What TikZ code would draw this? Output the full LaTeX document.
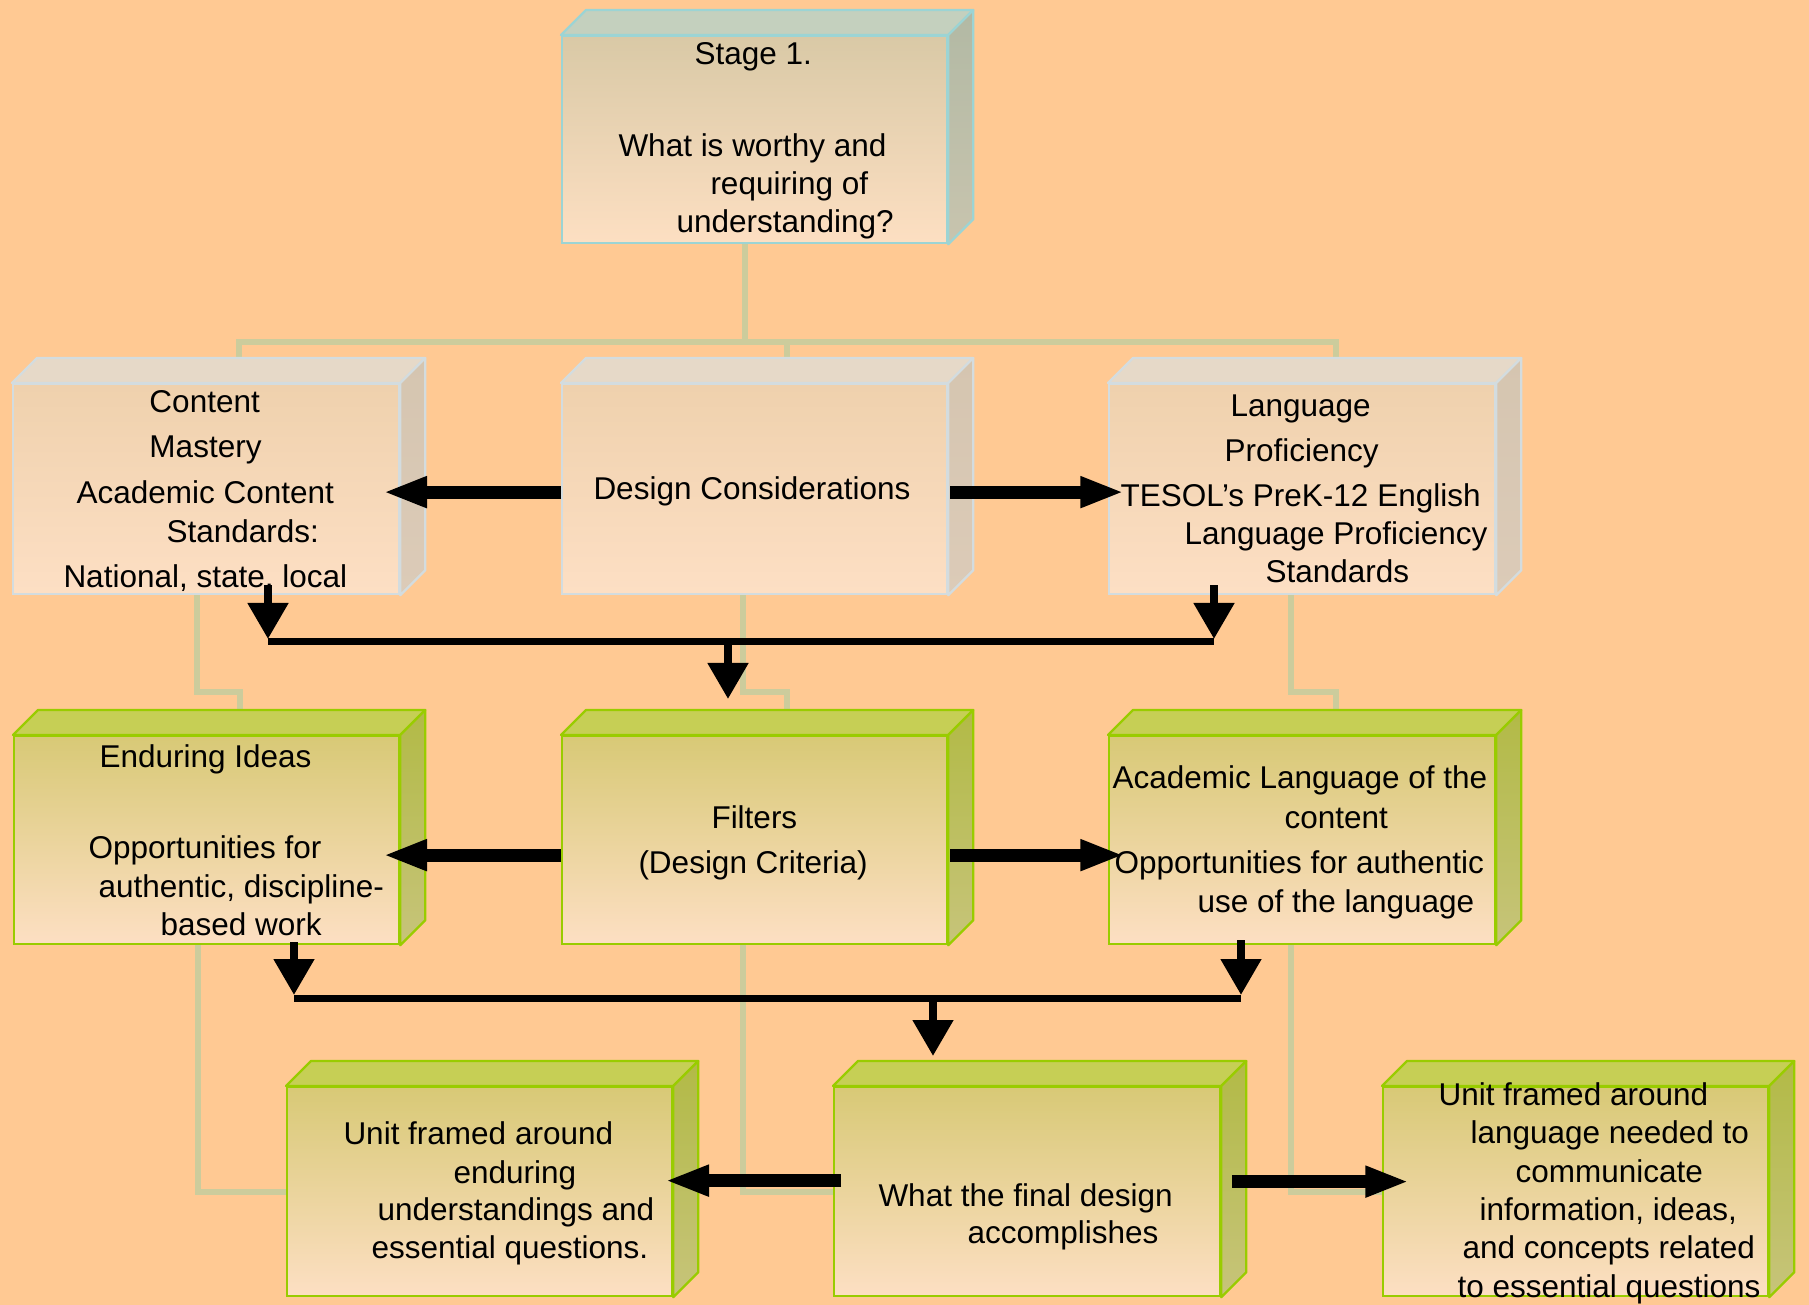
\documentclass[tikz,border=0pt]{standalone}
\usepackage{fontspec}
\setmainfont{Liberation Sans}
\usetikzlibrary{arrows.meta,backgrounds}
\definecolor{bgc}{HTML}{FFC993}
\definecolor{treec}{HTML}{CCCC9C}
\definecolor{stB}{HTML}{9CD4D4}
\definecolor{stF1}{HTML}{D9C9A6}
\definecolor{stF2}{HTML}{FDDFC2}
\definecolor{stT}{HTML}{C4D0BE}
\definecolor{stS1}{HTML}{B2B9A4}
\definecolor{stS2}{HTML}{C8C4AE}
\definecolor{paB}{HTML}{D3DCDF}
\definecolor{paF1}{HTML}{EFD1AD}
\definecolor{paF2}{HTML}{FDDFC4}
\definecolor{paT}{HTML}{E6D9C8}
\definecolor{paS1}{HTML}{D5C5B0}
\definecolor{paS2}{HTML}{DCCBB8}
\definecolor{grB}{HTML}{99CC00}
\definecolor{grF1}{HTML}{D8C976}
\definecolor{grF2}{HTML}{FDDFC3}
\definecolor{grT}{HTML}{C6CF55}
\definecolor{grS1}{HTML}{B2BA46}
\definecolor{grS2}{HTML}{C7C47A}
\tikzset{
  stagefront/.style={draw=stB, line width=0.9pt, top color=stF1, bottom color=stF2, inner sep=0pt},
  stagetop/.style={draw=stB, line width=0.9pt, fill=stT, line join=round},
  stageside/.style={draw=stB, line width=0.9pt, top color=stS1, bottom color=stS2, line join=round},
  palefront/.style={draw=paB, line width=0.9pt, top color=paF1, bottom color=paF2, inner sep=0pt},
  paletop/.style={draw=paB, line width=0.9pt, fill=paT, line join=round},
  paleside/.style={draw=paB, line width=0.9pt, top color=paS1, bottom color=paS2, line join=round},
  greenfront/.style={draw=grB, line width=0.9pt, top color=grF1, bottom color=grF2, inner sep=0pt},
  greentop/.style={draw=grB, line width=0.9pt, fill=grT, line join=round},
  greenside/.style={draw=grB, line width=0.9pt, top color=grS1, bottom color=grS2, line join=round},
  tx/.style={anchor=base west, inner sep=0pt, font=\fontsize{12.6}{15}\selectfont},
  tree/.style={draw=treec, line width=2.4pt},
  harrow/.style={line width=5.2pt, -{Triangle[length=17.5pt, width=11.5pt]}},
  darrow/.style={line width=3.2pt, -{Triangle[length=14.4pt, width=15.6pt]}},
  hline/.style={line width=2.8pt}
}
\newcommand\cubebox[6]{%
  \node[#6front, minimum width={(#4-#2)*0.4pt}, minimum height={(#5-#3)*0.4pt}, anchor=north west] (#1) at (#2,#3) {};
  \filldraw[#6top] (#1.north west) -- ++(25,-25) -- ([shift={(25,-25)}]#1.north east) -- (#1.north east) -- cycle;
  \filldraw[#6side] (#1.north east) -- ++(25,-25) -- ([shift={(25,-25)}]#1.south east) -- (#1.south east) -- cycle;
}
\begin{document}
\begin{tikzpicture}[x=0.4pt, y=-0.4pt]
\useasboundingbox (0,0) rectangle (1809,1305);

% boxes
\cubebox{s1}{561}{35}{946}{242}{stage}
\cubebox{cm}{12}{383}{398}{593}{pale}
\cubebox{dc}{561}{383}{946}{593}{pale}
\cubebox{lp}{1108}{383}{1494}{593}{pale}
\cubebox{ei}{13}{735}{398}{943}{green}
\cubebox{fi}{561}{735}{946}{943}{green}
\cubebox{al}{1108}{735}{1494}{943}{green}
\cubebox{u1}{286}{1086}{671}{1295}{green}
\cubebox{fd}{833}{1086}{1219}{1295}{green}
\cubebox{u3}{1382}{1086}{1767}{1295}{green}

% background and tree connectors (behind boxes)
\begin{pgfonlayer}{background}
\fill[bgc] (0,0) rectangle (1809,1305);
\draw[tree] ([shift={(-10,0)}]s1.south) -- ++(0,98) -| ([shift={(227,-25)}]cm.north west);
\draw[tree] ([shift={(-10,0)}]s1.south) -- ++(0,98) -| ([shift={(226,-25)}]dc.north west);
\draw[tree] ([shift={(-10,0)}]s1.south) -- ++(0,98) -| ([shift={(228,-25)}]lp.north west);
\draw[tree] ([shift={(185,0)}]cm.south west) -- ++(0,97) -| ([shift={(227,-25)}]ei.north west);
\draw[tree] ([shift={(182,0)}]dc.south west) -- ++(0,97) -| ([shift={(226,-25)}]fi.north west);
\draw[tree] ([shift={(183,0)}]lp.south west) -- ++(0,97) -| ([shift={(228,-25)}]al.north west);
\draw[tree] ([shift={(185,0)}]ei.south west) |- (u1.west);
\draw[tree] ([shift={(182,0)}]fi.south west) |- (fd.west);
\draw[tree] ([shift={(183,0)}]al.south west) |- (u3.west);
\end{pgfonlayer}

% texts
\node[tx] (s1a) at (694,65) {Stage 1.};
\node[tx] (s1b) at (618,157) {What is worthy and};
\node[tx] (s1c) at (710,195) {requiring of};
\node[tx] (s1d) at (676,233) {understanding?};

\node[tx] (cma) at (149,413) {Content};
\node[tx] (cmb) at (149,458) {Mastery};
\node[tx] (cmc) at (76,504) {Academic Content};
\node[tx] (cmd) at (166,543) {Standards:};
\node[tx] (cme) at (63,588) {National, state, local};

\node[tx] (dca) at (593,500) {Design Considerations};

\node[tx] (lpa) at (1230,417) {Language};
\node[tx] (lpb) at (1224,462) {Proficiency};
\node[tx] (lpc) at (1120,507) {TESOL’s PreK-12 English};
\node[tx] (lpd) at (1184,545) {Language Proficiency};
\node[tx] (lpe) at (1265,583) {Standards};

\node[tx] (eia) at (99,767) {Enduring Ideas};
\node[tx] (eib) at (88,858) {Opportunities for};
\node[tx] (eic) at (98,897) {authentic, discipline-};
\node[tx] (eid) at (160,935) {based work};

\node[tx] (fia) at (711,828) {Filters};
\node[tx] (fib) at (638,873) {(Design Criteria)};

\node[tx] (ala) at (1112,789) {Academic Language of the};
\node[tx] (alb) at (1284,828) {content};
\node[tx] (alc) at (1114,873) {Opportunities for authentic};
\node[tx] (ald) at (1197,912) {use of the language};

\node[tx] (u1a) at (343,1144) {Unit framed around};
\node[tx] (u1b) at (453,1183) {enduring};
\node[tx] (u1c) at (377,1220) {understandings and};
\node[tx] (u1d) at (371,1258) {essential questions.};

\node[tx] (fda) at (878,1206) {What the final design};
\node[tx] (fdb) at (967,1243) {accomplishes};

\node[tx] (u3a) at (1438,1105) {Unit framed around};
\node[tx] (u3b) at (1470,1143) {language needed to};
\node[tx] (u3c) at (1515,1182) {communicate};
\node[tx] (u3d) at (1479,1220) {information, ideas,};
\node[tx] (u3e) at (1462,1258) {and concepts related};
\node[tx] (u3f) at (1457,1297) {to essential questions};

% horizontal black arrows
\draw[harrow] ([shift={(0,3)}]dc.west) -- ([shift={(-17,3)}]cm.east);
\draw[harrow] ([shift={(2,3)}]dc.east) -- ([shift={(16,3)}]lp.west);
\draw[harrow] ([shift={(0,15)}]fi.west) -- ([shift={(-17,15)}]ei.east);
\draw[harrow] ([shift={(2,15)}]fi.east) -- ([shift={(16,15)}]al.west);
\draw[harrow] ([shift={(8,-11)}]fd.west) -- ([shift={(-8,-11)}]u1.east);
\draw[harrow] ([shift={(11,-10)}]fd.east) -- ([shift={(27,-10)}]u3.west);

% merge arrows row 2
\coordinate (jl2) at (268,642);
\coordinate (jr2) at (1214,642);
\coordinate (jc2) at (728,642);
\coordinate (fiin) at (728,699);
\draw[darrow] ([shift={(256,-10)}]cm.south west) -- ([shift={(0,-3)}]jl2);
\draw[darrow] ([shift={(106,-10)}]lp.south west) -- ([shift={(0,-3)}]jr2);
\draw[hline] (jl2) -- (jr2);
\draw[darrow] (jc2) -- (fiin);

% merge arrows row 3
\coordinate (jl3) at (294,998);
\coordinate (jr3) at (1241,998);
\coordinate (jc3) at (933,998);
\coordinate (fdin) at (933,1056);
\draw[darrow] ([shift={(281,-3)}]ei.south west) -- ([shift={(0,-3)}]jl3);
\draw[darrow] ([shift={(133,-5)}]al.south west) -- ([shift={(0,-3)}]jr3);
\draw[hline] (jl3) -- (jr3);
\draw[darrow] (jc3) -- (fdin);
\end{tikzpicture}
\end{document}
